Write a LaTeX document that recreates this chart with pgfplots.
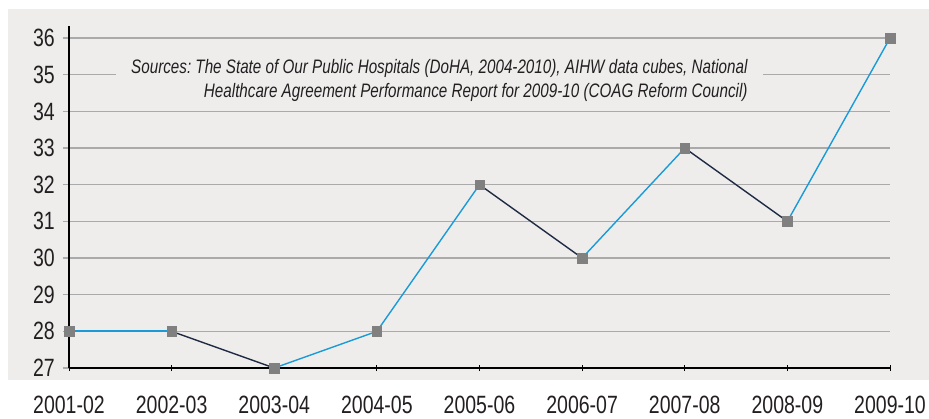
\documentclass[border=0pt]{standalone}
\usepackage{fontspec}
\setmainfont{Liberation Sans}[FakeStretch=0.78]
\usepackage{pgfplots}
\pgfplotsset{compat=1.18}
\definecolor{bg}{HTML}{EEEDEC}
\definecolor{lblue}{HTML}{1A9BD7}
\definecolor{navy}{HTML}{1F2A44}
\definecolor{gridc}{HTML}{AAAAAA}
\definecolor{mk}{HTML}{808080}
\definecolor{txt}{HTML}{231F20}
\frenchspacing
\begin{document}
\begin{tikzpicture}[x=1pt,y=1pt]
\path[use as bounding box] (0,0) rectangle (929,418);
\fill[bg] (8,38) rectangle (929,409);
\begin{axis}[
  at={(69pt,50pt)}, anchor=south west,
  scale only axis, width=821pt, height=342pt,
  xmin=0, xmax=8, ymin=27, ymax=36.33,
  axis x line=bottom, axis y line=left,
  axis line style={-, black, line width=1.2pt},
  xtick={0,...,8},
  xticklabels={2001-02,2002-03,2003-04,2004-05,2005-06,2006-07,2007-08,2008-09,2009-10},
  ytick={27,...,36},
  /pgf/number format/assume math mode=true,
  ymajorgrids, major grid style={gridc, line width=1.3pt},
  xtick style={black, line width=1pt}, ytick style={gridc, line width=1.3pt},
  major tick length=6pt,
  xtick align=center, ytick align=outside,
  ticklabel style={font=\fontsize{25}{30}\selectfont, text=txt},
  xticklabel style={anchor=north, inner sep=0pt, yshift=-25pt},
  yticklabel style={anchor=east, inner sep=0pt, xshift=-8pt},
  clip=false,
]
\node[fill=bg, anchor=east, align=right, inner xsep=15pt, inner ysep=5pt,
      font=\fontsize{19.5}{24}\selectfont\itshape, text=txt]
  at (axis cs:6.76,34.85)
  {Sources: The State of Our Public Hospitals (DoHA, 2004-2010), AIHW data cubes, National\\
   Healthcare Agreement Performance Report for 2009-10 (COAG Reform Council)};
\addplot[draw=lblue, line width=2pt] coordinates {(0,28) (1,28)};
\addplot[draw=navy, line width=1.4pt] coordinates {(1,28) (2,27)};
\addplot[draw=lblue, line width=1.4pt] coordinates {(2,27) (3,28) (4,32)};
\addplot[draw=navy, line width=1.4pt] coordinates {(4,32) (5,30)};
\addplot[draw=lblue, line width=1.4pt] coordinates {(5,30) (6,33)};
\addplot[draw=navy, line width=1.4pt] coordinates {(6,33) (7,31)};
\addplot[draw=lblue, line width=1.4pt] coordinates {(7,31) (8,36)};
\addplot[only marks, mark=square*, mark size=4.8pt, mark options={fill=mk, draw=mk}]
  coordinates {(0,28) (1,28) (2,27) (3,28) (4,32) (5,30) (6,33) (7,31) (8,36)};
\end{axis}
\end{tikzpicture}
\end{document}
